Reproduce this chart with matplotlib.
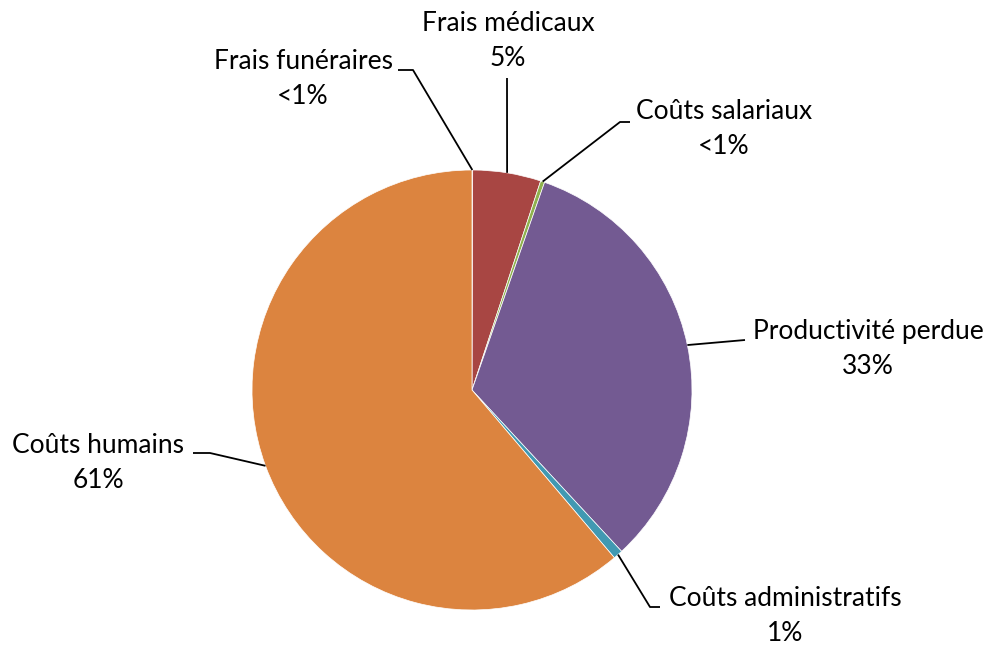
import numpy as np
import matplotlib.pyplot as plt

plt.rcParams['font.family'] = ['Lato', 'DejaVu Sans']

categories = ['Frais funéraires', 'Frais médicaux', 'Coûts salariaux',
              'Productivité perdue', 'Coûts administratifs', 'Coûts humains']
values = [0.05, 5.0, 0.3, 32.75, 0.7, 61.2]
pct_labels = ['<1%', '5%', '<1%', '33%', '1%', '61%']
colors = ['#4A7EBB', '#A84643', '#8FB14D', '#735A92', '#4199B2', '#DC843F']

W, H = 987, 648
fig = plt.figure(figsize=(W / 100, H / 100), dpi=100)
ax = fig.add_axes([0, 0, 1, 1])

cx, cy, r = 472, H - 390, 220
wedges, _ = ax.pie(values, colors=colors, startangle=90, counterclock=False,
                   center=(cx, cy), radius=r, frame=True,
                   wedgeprops=dict(linewidth=0.5, edgecolor='white'))
ax.set_xlim(0, W)
ax.set_ylim(0, H)
ax.set_aspect('equal')
ax.axis('off')

# label layout (pixel coords, y from top): text centre, elbow, line end
layout = [
    ((303, 79), (413, 70), (398, 70)),
    ((508, 41), (507, 78), (507, 78)),
    ((724, 129), (620, 122), (630, 122)),
    ((868, 349), (745, 340), (745, 340)),
    ((785, 616), (650, 607), (660, 607)),
    ((98, 463), (210, 453), (193, 453)),
]

for w, cat, pct, (tpos, elbow, end) in zip(wedges, categories, pct_labels, layout):
    ang = np.deg2rad((w.theta1 + w.theta2) / 2)
    px, py = cx + r * np.cos(ang), cy + r * np.sin(ang)
    xs = [px, elbow[0], end[0]]
    ys = [py, H - elbow[1], H - end[1]]
    ax.plot(xs, ys, color='black', lw=1.3, solid_capstyle='butt', zorder=3)
    ax.text(tpos[0], H - tpos[1], cat + '\n' + pct, ha='center', va='center',
            fontsize=19, linespacing=1.5, color='black')

fig.savefig('out.png', dpi=100)
